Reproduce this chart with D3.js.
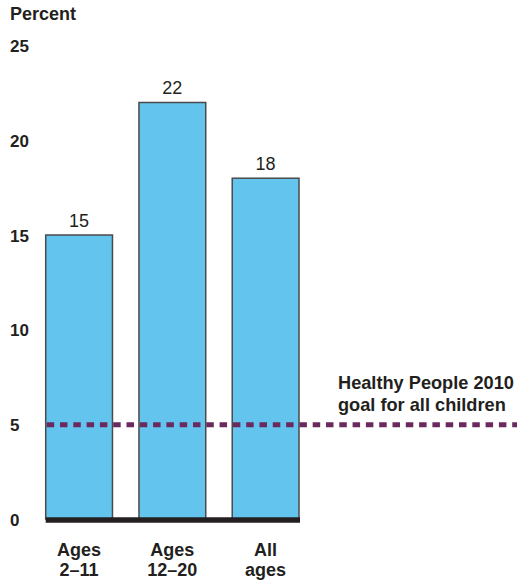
<!DOCTYPE html>
<html><head><meta charset="utf-8">
<script src="https://cdn.jsdelivr.net/npm/d3@7"></script>
<style>body{margin:0;background:#fff}svg text{font-family:"Liberation Sans",Arial,sans-serif;fill:#231f20}</style>
</head><body><svg id="c" width="517" height="581"></svg>
<script>
const categories = [["Ages","2–11"],["Ages","12–20"],["All","ages"]];
const values = [15, 22, 18];
const yTicks = [0, 5, 10, 15, 20, 25];
const goalValue = 5;
const goalLabel = ["Healthy People 2010","goal for all children"];
const yTitle = "Percent";

const svg = d3.select("#c");
const y = d3.scaleLinear().domain([0,25]).range([519, 45.7]);
const x = d3.scaleBand().domain(d3.range(values.length)).range([45.7, 299]).paddingInner(0.284).paddingOuter(0);

svg.append("text").attr("x",10).attr("y",20).attr("font-size",18).attr("font-weight","bold").text(yTitle);

svg.append("g").selectAll("text").data(yTicks).join("text")
  .attr("x",10).attr("y",d=>y(d)+6.5).attr("font-size",17).attr("font-weight","bold").text(d=>d);

svg.append("g").selectAll("rect").data(values).join("rect")
  .attr("x",(d,i)=>x(i)).attr("width",x.bandwidth())
  .attr("y",d=>y(d)).attr("height",d=>y(0)-y(d))
  .attr("fill","#63c5ee").attr("stroke","#4a4a4a").attr("stroke-width",1.5);

svg.append("g").selectAll("text").data(values).join("text")
  .attr("x",(d,i)=>x(i)+x.bandwidth()/2).attr("y",d=>y(d)-8)
  .attr("text-anchor","middle").attr("font-size",18).text(d=>d);

svg.append("line").attr("x1",x(0)).attr("x2",x(values.length-1)+x.bandwidth()+1)
  .attr("y1",y(0)+1).attr("y2",y(0)+1).attr("stroke","#231f20").attr("stroke-width",5.5);

svg.append("line").attr("x1",x(0)+1).attr("x2",517).attr("y1",y(goalValue)+0.5).attr("y2",y(goalValue)+0.5)
  .attr("stroke","#6b2a5f").attr("stroke-width",5).attr("stroke-dasharray","7.5,5.8");

svg.append("g").selectAll("text").data(goalLabel).join("text")
  .attr("x",338).attr("y",(d,i)=>389+i*22).attr("font-size",18.2).attr("font-weight","bold").text(d=>d);

const cg = svg.append("g").selectAll("text").data(categories).join("text")
  .attr("text-anchor","middle").attr("font-size",18).attr("font-weight","bold");
cg.selectAll("tspan").data((d,i)=>d.map(t=>({t,i}))).join("tspan")
  .attr("x",d=>x(d.i)+x.bandwidth()/2).attr("y",(d,j)=>556+j*20).text(d=>d.t);
</script></body></html>
